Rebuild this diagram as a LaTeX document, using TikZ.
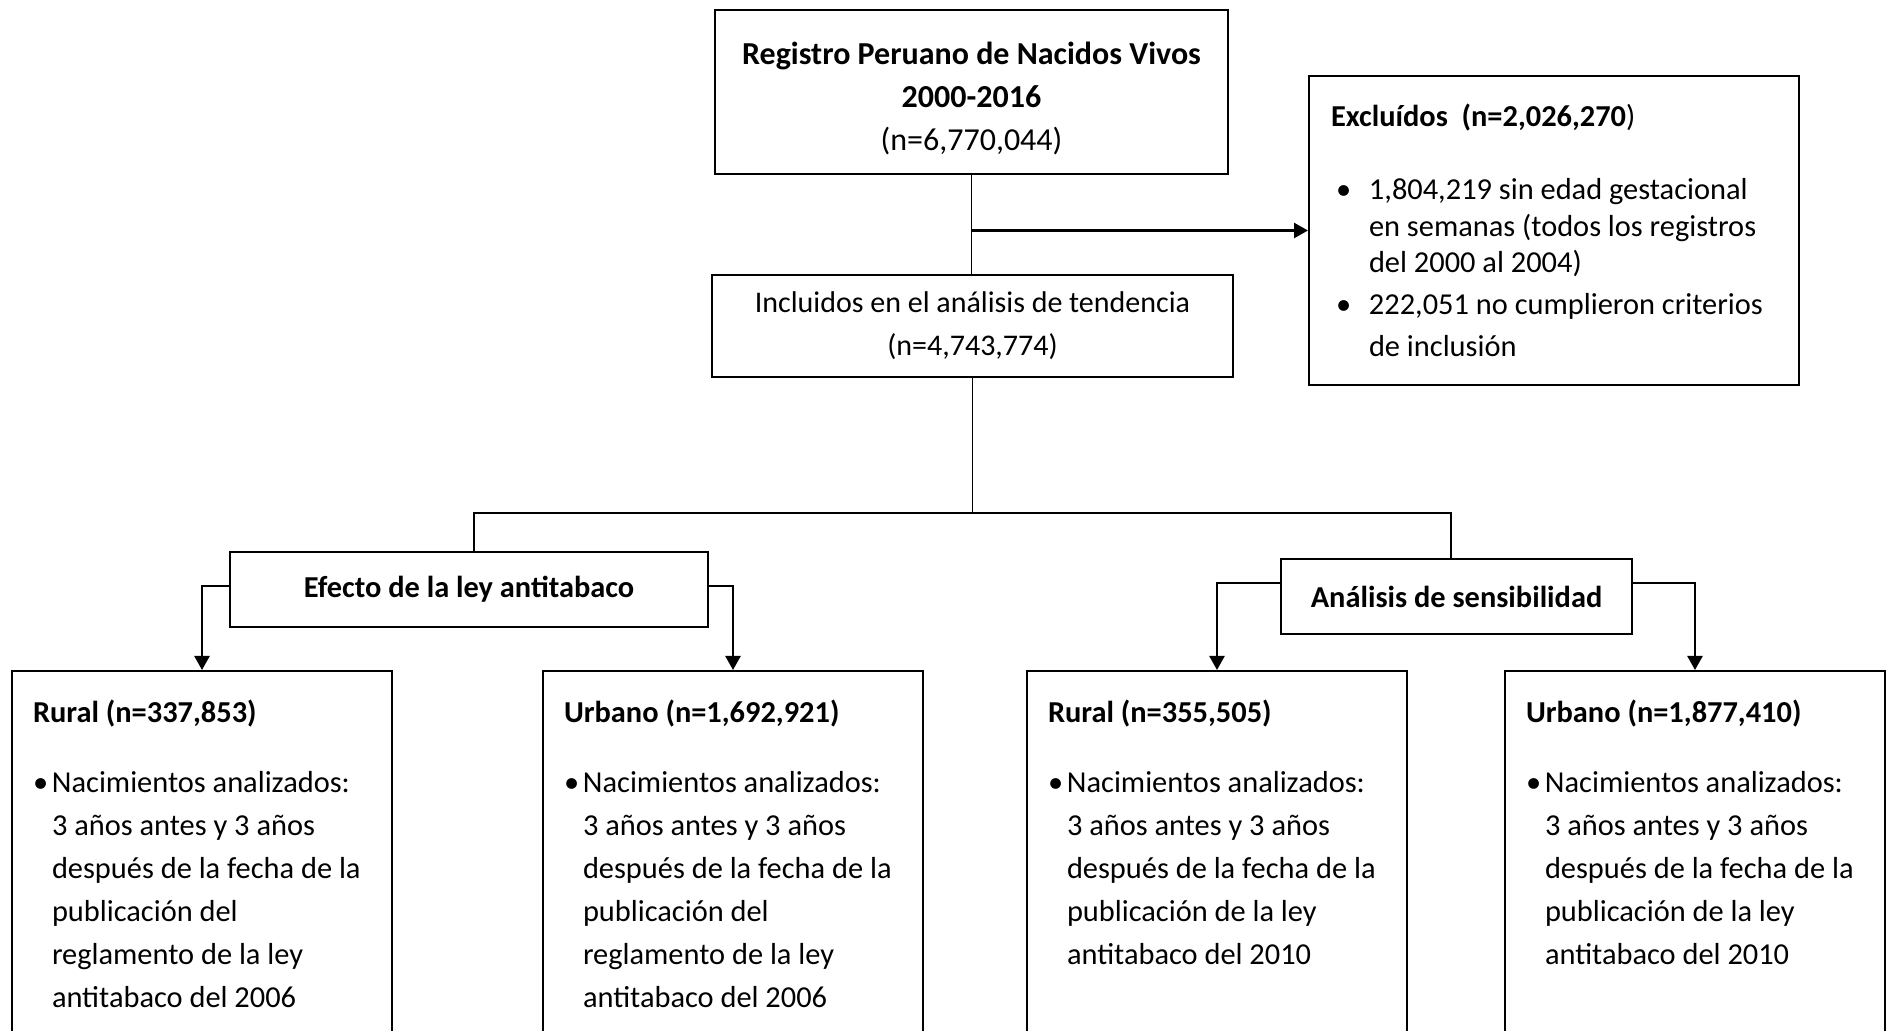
\documentclass[tikz,border=0pt]{standalone}
\usepackage{fontspec}
\setmainfont{Carlito}
\usetikzlibrary{arrows.meta}

\newcommand{\vinieta}[1]{\makebox[#1][l]{\textbullet}}
\newcommand{\sinesp}{\spaceskip=0pt\xspaceskip=0pt\relax}

\begin{document}
\begin{tikzpicture}[x=0.5pt,y=-0.5pt,
		caja/.style={draw,line width=1pt,rectangle,inner sep=0pt},
		letra/.style={font=\fontsize{15.2}{21.5}\selectfont},
		linea/.style={line width=0.9pt},
		flecha/.style={line width=1.2pt,-{Triangle[width=7.5pt,length=7pt]}}]
		\useasboundingbox (0,0) rectangle (1892,1031);
		\node[caja,font=\fontsize{16}{21.5}\selectfont,text width=250pt,minimum width=256.5pt,minimum height=82pt] (registro) at (971.5,92)
		{\sinesp\centering\rule{0pt}{18pt}\textbf{Registro Peruano de Nacidos Vivos}\\\textbf{2000-2016}\\(n=6,770,044)\par};
		\node[caja,font=\fontsize{15}{21.5}\selectfont,text width=250pt,minimum width=260.5pt,minimum height=51pt] (incluidos) at (972.5,326)
		{\sinesp\centering Incluidos en el análisis de tendencia\\(n=4,743,774)\par};
		\node[caja,anchor=north west,inner xsep=11pt,text width=223pt,minimum height=154.5pt,
			font=\fontsize{15.2}{18.25}\selectfont] (excluidos) at (1308,75)
		{\sinesp\raggedright\textbf{Excluídos\ \ (n=2,026,270})\\[18.25pt]
			\hspace*{2.5pt}\vinieta{16.5pt}\parbox[t]{215pt}{\sinesp\raggedright 1,804,219 sin edad gestacional\\en semanas (todos los registros\\del 2000 al 2004)\strut}\\[1.7pt]
			\strut\hspace*{2.5pt}\vinieta{16.5pt}\parbox[t]{215pt}{\sinesp\raggedright 222,051 no cumplieron criterios\\[2.5pt]de inclusión}\par};
		\node[caja,letra,minimum width=239pt,minimum height=37.5pt] (efecto) at (469,589.5)
		{\textbf{Efecto de la ley antitabaco}};
		\node[caja,letra,minimum width=175.5pt,minimum height=37.5pt] (analisis) at (1456.5,596.5)
		{\textbf{Análisis de sensibilidad}};
		\foreach \x/\nom/\titulo/\cola in
		{
			11/rur1/{Rural (n=337,853)}/{publicación del\\reglamento de la ley\\antitabaco del 2006},
			542/urb1/{Urbano (n=1,692,921)}/{publicación del\\reglamento de la ley\\antitabaco del 2006},
			1026/rur2/{Rural (n=355,505)}/{publicación de la ley\\antitabaco del 2010},
			1504/urb2/{Urbano (n=1,877,410)}/{publicación de la ley\\antitabaco del 2010}
		}
		{
			\node[caja,letra,anchor=north west,inner xsep=10.5pt,inner ysep=14.5pt,text width=169pt,
				text depth=200pt] (\nom) at (\x,670)
			{\sinesp\raggedright\textbf{\titulo}\\[13.5pt]
				\vinieta{9.5pt}\parbox[t]{175pt}{\sinesp\raggedright Nacimientos analizados:\\3 años antes y 3 años\\después de la fecha de la\\\cola}\par};
		}
		\draw[linea] (registro.south) -- (registro.south |- incluidos.north);
		\draw[flecha] (registro.south |- excluidos.west) -- (excluidos.west);
		\coordinate (bizq) at (474,513);
		\coordinate (bder) at (1451,513);
		\draw[linea] (incluidos.south) -- (incluidos.south |- bizq);
		\draw[linea] (efecto.north -| bizq) -- (bizq) -- (bder) -- (bder |- analisis.north);
		\foreach \a/\b/\s in {efecto.west/rur1/1.75pt, efecto.east/urb1/1.75pt,
			analisis.west/rur2/6.75pt, analisis.east/urb2/6.75pt}
		{
			\draw[flecha] ([yshift=\s]\a) -| (\b.north);
		}
\end{tikzpicture}
\end{document}
